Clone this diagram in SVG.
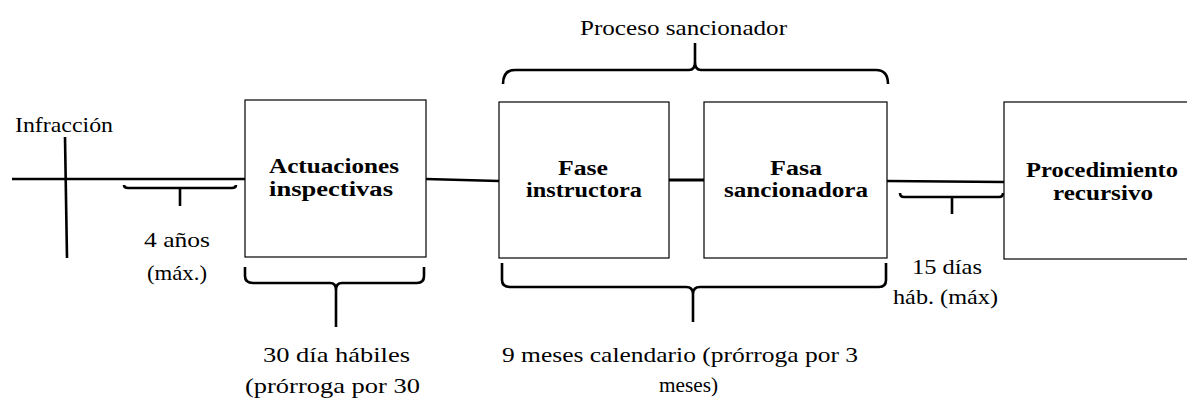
<svg xmlns="http://www.w3.org/2000/svg" width="1187" height="401" viewBox="0 0 1187 401">
<style>
.box{fill:#fff;stroke:#000;stroke-width:1.2}
.ln{fill:none;stroke:#000;stroke-width:2.6;stroke-linecap:butt}
.br{fill:none;stroke:#000;stroke-width:2.6;stroke-linejoin:round}
text{font-family:'Liberation Serif','DejaVu Serif Condensed',serif;fill:#000}
.t{font-size:22px}
.b{font-size:20px;font-weight:bold}
</style>
<rect width="1187" height="401" fill="#fff"/>
<g id="connectors">
<line class="ln" x1="12" y1="179" x2="245" y2="179"/>
<line class="ln" x1="65" y1="137" x2="67" y2="258"/>
<line class="ln" x1="426" y1="179" x2="499" y2="181"/>
<line class="ln" x1="669" y1="180" x2="704" y2="180" style="stroke-width:3.2"/>
<line class="ln" x1="887" y1="181" x2="1004" y2="182"/>
<path class="br" d="M124,185 Q124,188 128,188 H232 Q236,188 236,185 M180,188 V206"/>
<path class="br" d="M900,193 Q900,197 904,197 H999 Q1003,197 1003,193 M952,197 V214"/>
<path class="br" d="M503,84 Q503,70 515,70 H689 Q695,70 695,62 V43 M695,62 Q695,70 701,70 H876 Q888,70 888,84"/>
<path class="br" d="M245,267 V276 Q245,283 253,283 H330 Q336,283 336,290 V327 M336,290 Q336,283 342,283 H417 Q424,283 424,276 V267"/>
<path class="br" d="M502,263 V280 Q502,287 510,287 H686 Q693,287 693,294 V322 M693,294 Q693,287 700,287 H879 Q886,287 886,280 V263"/>
</g>
<g id="infraccion">
<text class="t" x="15" y="132" textLength="98" lengthAdjust="spacingAndGlyphs">Infracción</text>
</g>
<g id="actuaciones">
<rect class="box" x="245" y="100" width="181" height="157"/>
<text class="b" x="269" y="173" textLength="130" lengthAdjust="spacingAndGlyphs">Actuaciones</text>
<text class="b" x="269" y="196" textLength="124" lengthAdjust="spacingAndGlyphs">inspectivas</text>
</g>
<g id="fase-instructora">
<rect class="box" x="499" y="102" width="170" height="156"/>
<text class="b" x="558" y="175" textLength="50" lengthAdjust="spacingAndGlyphs">Fase</text>
<text class="b" x="526" y="197" textLength="116" lengthAdjust="spacingAndGlyphs">instructora</text>
</g>
<g id="fasa-sancionadora">
<rect class="box" x="704" y="102" width="183" height="156"/>
<text class="b" x="770" y="175" textLength="52" lengthAdjust="spacingAndGlyphs">Fasa</text>
<text class="b" x="724" y="197" textLength="144" lengthAdjust="spacingAndGlyphs">sancionadora</text>
</g>
<g id="procedimiento-recursivo">
<rect class="box" x="1004" y="102" width="200" height="157"/>
<text class="b" x="1026" y="177" textLength="152" lengthAdjust="spacingAndGlyphs">Procedimiento</text>
<text class="b" x="1053" y="200" textLength="100" lengthAdjust="spacingAndGlyphs">recursivo</text>
</g>
<g id="labels">
<text class="t" x="580" y="35" textLength="207" lengthAdjust="spacingAndGlyphs">Proceso sancionador</text>
<text class="t" x="144" y="247" textLength="66" lengthAdjust="spacingAndGlyphs">4 años</text>
<text class="t" x="147" y="280" textLength="60" lengthAdjust="spacingAndGlyphs">(máx.)</text>
<text class="t" x="263" y="362" textLength="147" lengthAdjust="spacingAndGlyphs">30 día hábiles</text>
<text class="t" x="245" y="393" textLength="175" lengthAdjust="spacingAndGlyphs">(prórroga por 30</text>
<text class="t" x="502" y="362" textLength="356" lengthAdjust="spacingAndGlyphs">9 meses calendario (prórroga por 3</text>
<text class="t" x="659" y="392" textLength="59" lengthAdjust="spacingAndGlyphs">meses)</text>
<text class="t" x="912" y="274" textLength="70" lengthAdjust="spacingAndGlyphs">15 días</text>
<text class="t" x="893" y="304" textLength="105" lengthAdjust="spacingAndGlyphs">háb. (máx)</text>
</g>
</svg>
